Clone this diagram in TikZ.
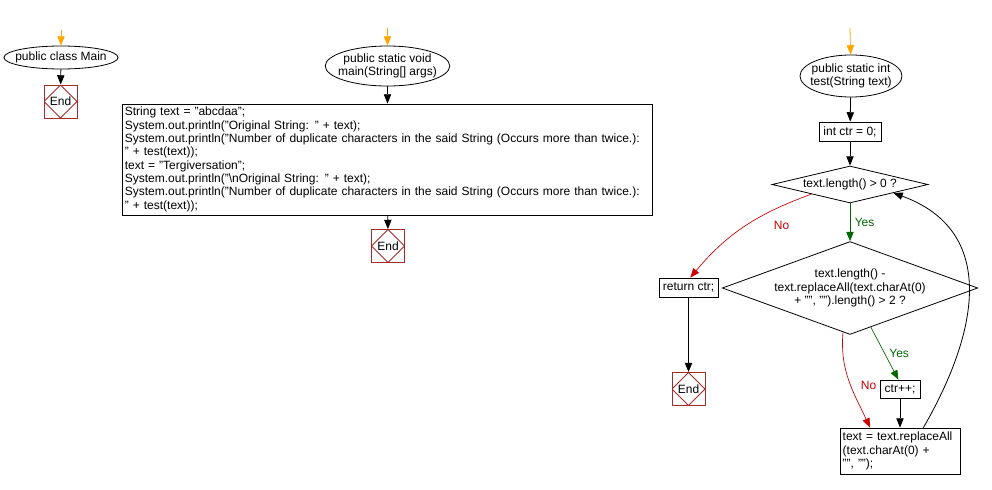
\documentclass[tikz,border=0pt]{standalone}
\usepackage{fontspec}
\setmainfont{Liberation Sans}
\usetikzlibrary{shapes.geometric,arrows.meta}
\definecolor{startorange}{RGB}{255,165,0}
\definecolor{endred}{RGB}{165,42,42}
\definecolor{nored}{RGB}{204,0,0}
\definecolor{yesgreen}{RGB}{0,102,0}

\begin{document}
\begin{tikzpicture}[x=0.75pt, y=0.75pt,
    font=\fontsize{9}{10}\selectfont,
    oval/.style={ellipse, draw, line width=0.6pt, inner xsep=-4pt, inner ysep=0pt, align=center},
    box/.style={rectangle, draw, line width=0.6pt, inner sep=2pt, align=center},
    cond/.style={diamond, draw, line width=0.6pt, inner sep=0pt, align=center},
    endbox/.style={rectangle, draw=endred, line width=0.6pt, minimum width=24.75pt, minimum height=24.75pt, inner sep=0pt,
        path picture={\draw[endred, line width=0.6pt] (path picture bounding box.north) -- (path picture bounding box.east) -- (path picture bounding box.south) -- (path picture bounding box.west) -- cycle;}},
    a/.style={-{Triangle[length=7pt,width=5.5pt]}, line width=0.6pt},
    starta/.style={-{Triangle[length=7pt,width=5.5pt]}, line width=0.6pt, startorange},
    noa/.style={-{Triangle[length=7pt,width=5.5pt]}, line width=0.5pt, nored},
    yesa/.style={-{Triangle[length=7pt,width=5.5pt]}, line width=0.5pt, yesgreen}
]
    \useasboundingbox (0,0) rectangle (992,-489);

    % class Main
    \coordinate (inA) at (61,-30);
    \node[oval, minimum width=83.25pt, minimum height=17.25pt] (cls) at (61,-57.5) {public class Main};
    \node[endbox] (endA) at (60.5,-101.5) {End};
    \draw[starta] (inA) -- (cls);
    \draw[a] (cls) -- (endA);

    % main
    \coordinate (inB) at (387.5,-28);
    \node[oval, minimum width=92.25pt, minimum height=30pt] (mainf) at (387.5,-66) {public static void\\main(String[] args)};
    \node[box, align=left, text width=394pt, minimum height=83.25pt] (body) at (387.5,-159.5) {String text = "abcdaa";\\
System.out.println("Original String: " + text);\\
System.out.println("Number of duplicate characters in the said String (Occurs more than twice.):\\
" + test(text));\\
text = "Tergiversation";\\
System.out.println("\textbackslash nOriginal String: " + text);\\
System.out.println("Number of duplicate characters in the said String (Occurs more than twice.):\\
" + test(text));};
    \node[endbox] (endB) at (388,-246) {End};
    \draw[starta] (inB) -- (mainf);
    \draw[a] (mainf) -- (body);
    \draw[a] (body) -- (endB);

    % test
    \coordinate (inC) at (850,-28);
    \node[oval, minimum width=76.5pt, minimum height=31.5pt] (testf) at (851,-76) {public static int\\test(String text)};
    \node[box, minimum width=46.5pt, minimum height=14.25pt] (init) at (850,-131.5) {int ctr = 0;};
    \node[cond, shape aspect=4.2, minimum width=117pt, minimum height=27.75pt] (condA) at (850,-184.5) {text.length() > 0 ?};
    \node[cond, shape aspect=2.75, minimum width=189.75pt, minimum height=69pt] (condB) at (850,-288) {text.length() -\\text.replaceAll(text.charAt(0)\\+ "", "").length() > 2 ?};
    \node[box, minimum width=44.25pt, minimum height=14.25pt] (ret) at (688.5,-287.5) {return ctr;};
    \node[endbox] (endC) at (688.5,-389) {End};
    \node[box, minimum width=30pt, minimum height=13.5pt] (inc) at (900,-389) {ctr++;};
    \node[box, align=left, text width=86pt, minimum height=34.5pt] (upd) at (900,-451) {text = text.replaceAll\\(text.charAt(0) +\\"", "");};
    \draw[starta] (inC) -- (testf);
    \draw[a] (testf) -- (init);
    \draw[a] (init) -- (condA);
    \draw[yesa] (condA) -- node[right, yesgreen]{Yes} (condB);
    \draw[noa] (condA.-166) to[out=200, in=50] node[pos=0.2, below=8pt, nored]{No} (ret.80);
    \draw[a] (ret) -- (endC);
    \draw[yesa] (condB.-62) -- node[right, yesgreen]{Yes} (inc.100);
    \draw[noa] (condB.-99) to[out=-95, in=115] node[pos=0.55, right=4pt, nored]{No} (upd.142);
    \draw[a] (inc) -- (upd);
    \draw[a] (upd.45) to[out=60, in=-20, looseness=1.2] (condA.-11);
\end{tikzpicture}
\end{document}
